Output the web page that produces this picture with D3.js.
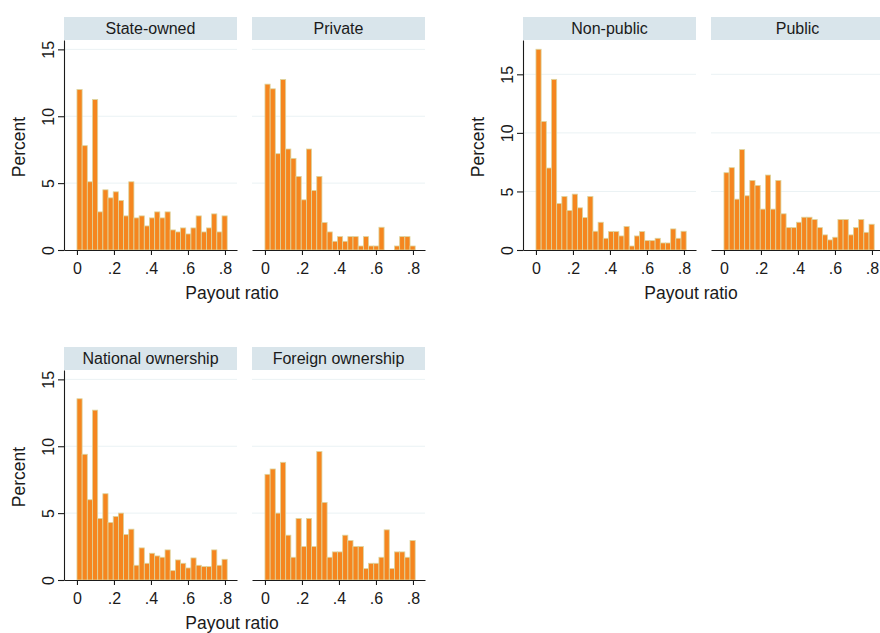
<!DOCTYPE html>
<meta charset="utf-8">
<style>
body { margin: 0; background: #fff; }
svg { font-family: "Liberation Sans", Arial, Helvetica, sans-serif; }
.strip { fill: #d9e5eb; }
.strip-label { font-size: 16px; fill: #1a1a1a; text-anchor: middle; }
.grid line { stroke: #eaf2f4; stroke-width: 1; }
.bar { fill: #f5861f; stroke: #ddd59f; stroke-width: 0.8; }
.axis path, .axis line { stroke: #1a1a1a; stroke-width: 1.1; }
.axis text { font-size: 16px; fill: #1a1a1a; font-family: "Liberation Sans", Arial, sans-serif; }
.axis-title { font-size: 17.5px; fill: #1a1a1a; text-anchor: middle; }
</style>

<svg id="chart" width="880" height="633"></svg>

<script src="https://d3js.org/d3.v7.min.js"></script>
<script>

// histogram bins: 29 bins starting at 0
var binStart = 0;
var binWidth = 0.028;

var xTicks = [0, 0.2, 0.4, 0.6, 0.8];
var xTickLabels = ["0", ".2", ".4", ".6", ".8"];
var yTicks = [0, 5, 10, 15];

// percent of firms in each payout ratio bin
var stateOwned = [12.0, 7.8, 5.1, 11.25, 2.85, 4.5, 3.9, 4.35, 3.7, 2.55, 5.1, 2.4, 2.55, 1.8, 2.4,
                  2.85, 2.4, 2.85, 1.5, 1.35, 1.65, 1.2, 1.65, 2.55, 1.35, 1.65, 2.7, 1.35, 2.55];
var privateOwned = [12.4, 12.05, 7.2, 12.75, 7.55, 6.85, 5.5, 3.75, 7.55, 4.45, 5.5, 2.05, 1.35, 0.65, 1.0,
                    0.65, 1.0, 1.0, 0.3, 1.0, 0.3, 0.3, 1.7, 0, 0, 0.3, 1.0, 1.0, 0.3];
var nonPublic = [17.14, 10.97, 7.0, 14.57, 3.97, 4.57, 3.37, 4.77, 3.6, 2.77, 4.57, 1.6, 2.37, 1.0, 1.57,
                 1.57, 1.2, 2.0, 0.34, 1.2, 1.57, 0.8, 0.8, 1.0, 0.6, 0.6, 1.8, 1.0, 1.6];
var publicFirms = [6.6, 7.03, 4.34, 8.57, 4.63, 5.94, 5.51, 3.49, 6.4, 3.49, 5.94, 3.09, 1.91, 1.91, 2.37,
                   2.8, 2.8, 2.6, 1.91, 1.29, 0.86, 1.09, 2.6, 2.6, 1.29, 1.91, 2.6, 1.51, 2.2];
var nationalOwned = [13.55, 9.4, 6.0, 12.7, 4.6, 6.45, 4.3, 4.75, 5.0, 3.4, 3.8, 1.1, 2.4, 1.25, 2.0,
                     1.8, 1.7, 2.25, 0.7, 1.5, 1.25, 0.9, 1.65, 1.1, 1.0, 1.0, 2.25, 1.1, 1.55];
var foreignOwned = [7.9, 8.3, 5.0, 8.8, 3.35, 1.7, 4.6, 2.5, 4.6, 2.5, 9.6, 5.8, 1.7, 2.1, 2.1,
                    3.35, 2.95, 2.5, 2.5, 0.85, 1.25, 1.25, 1.7, 3.75, 0.85, 2.1, 2.1, 1.7, 2.95];

// three combined graphs, two panels each
var graphs = [
  { left: 64, top: 17, yMax: 15.7, titleX: 232,
    panels: [{ title: "State-owned", values: stateOwned }, { title: "Private", values: privateOwned }] },
  { left: 523, top: 17, yMax: 17.93, titleX: 691,
    panels: [{ title: "Non-public", values: nonPublic }, { title: "Public", values: publicFirms }] },
  { left: 64, top: 347, yMax: 15.7, titleX: 232,
    panels: [{ title: "National ownership", values: nationalOwned }, { title: "Foreign ownership", values: foreignOwned }] }
];

var panelW = 173,
    panelGap = 15,
    stripH = 23,
    plotH = 210;

var svg = d3.select("#chart");

graphs.forEach(function(gr) {
  var plotTop = gr.top + stripH,
      plotBottom = plotTop + plotH;

  var y = d3.scaleLinear()
      .domain([0, gr.yMax])
      .range([plotBottom, plotTop]);

  gr.panels.forEach(function(p, pi) {
    var left = gr.left + pi * (panelW + panelGap);
    var x = d3.scaleLinear()
        .domain([-0.07, 0.865])
        .range([left, left + panelW]);

    var g = svg.append("g");

    // strip with panel title
    g.append("rect")
        .attr("class", "strip")
        .attr("x", left)
        .attr("y", gr.top)
        .attr("width", panelW)
        .attr("height", stripH);
    g.append("text")
        .attr("class", "strip-label")
        .attr("x", left + panelW / 2)
        .attr("y", gr.top + 17)
        .text(p.title);

    // gridlines
    g.append("g")
        .attr("class", "grid")
      .selectAll("line")
      .data(yTicks.filter(function(t) { return t > 0; }))
      .enter().append("line")
        .attr("x1", left)
        .attr("x2", left + panelW)
        .attr("y1", function(d) { return y(d); })
        .attr("y2", function(d) { return y(d); });

    // bars
    g.append("g")
      .selectAll("rect")
      .data(p.values.map(function(v, i) { return { x0: binStart + i * binWidth, x1: binStart + (i + 1) * binWidth, v: v }; })
                    .filter(function(d) { return d.v > 0; }))
      .enter().append("rect")
        .attr("class", "bar")
        .attr("x", function(d) { return x(d.x0); })
        .attr("width", function(d) { return x(d.x1) - x(d.x0); })
        .attr("y", function(d) { return y(d.v); })
        .attr("height", function(d) { return y(0) - y(d.v); });

    // x axis
    g.append("g")
        .attr("class", "axis")
        .attr("transform", "translate(0," + plotBottom + ")")
        .call(d3.axisBottom(x)
          .tickValues(xTicks)
          .tickFormat(function(d, i) { return xTickLabels[i]; })
          .tickSize(5)
          .tickSizeOuter(0)
          .tickPadding(8));

    // y axis only on first panel of each graph
    if (pi === 0) {
      var ya = g.append("g")
          .attr("class", "axis")
          .attr("transform", "translate(" + left + ",0)")
          .call(d3.axisLeft(y)
            .tickValues(yTicks)
            .tickSize(6)
            .tickSizeOuter(0));
      ya.selectAll(".tick text")
          .attr("x", 0)
          .attr("y", -10)
          .attr("dy", 0)
          .attr("text-anchor", "middle")
          .attr("transform", "rotate(-90)");

      g.append("text")
          .attr("class", "axis-title")
          .attr("transform", "translate(" + (left - 39) + "," + ((plotTop + plotBottom) / 2 + 2) + ") rotate(-90)")
          .text("Percent");
    }
  });

  svg.append("text")
      .attr("class", "axis-title")
      .attr("x", gr.titleX)
      .attr("y", plotBottom + 49)
      .text("Payout ratio");
});

</script>
